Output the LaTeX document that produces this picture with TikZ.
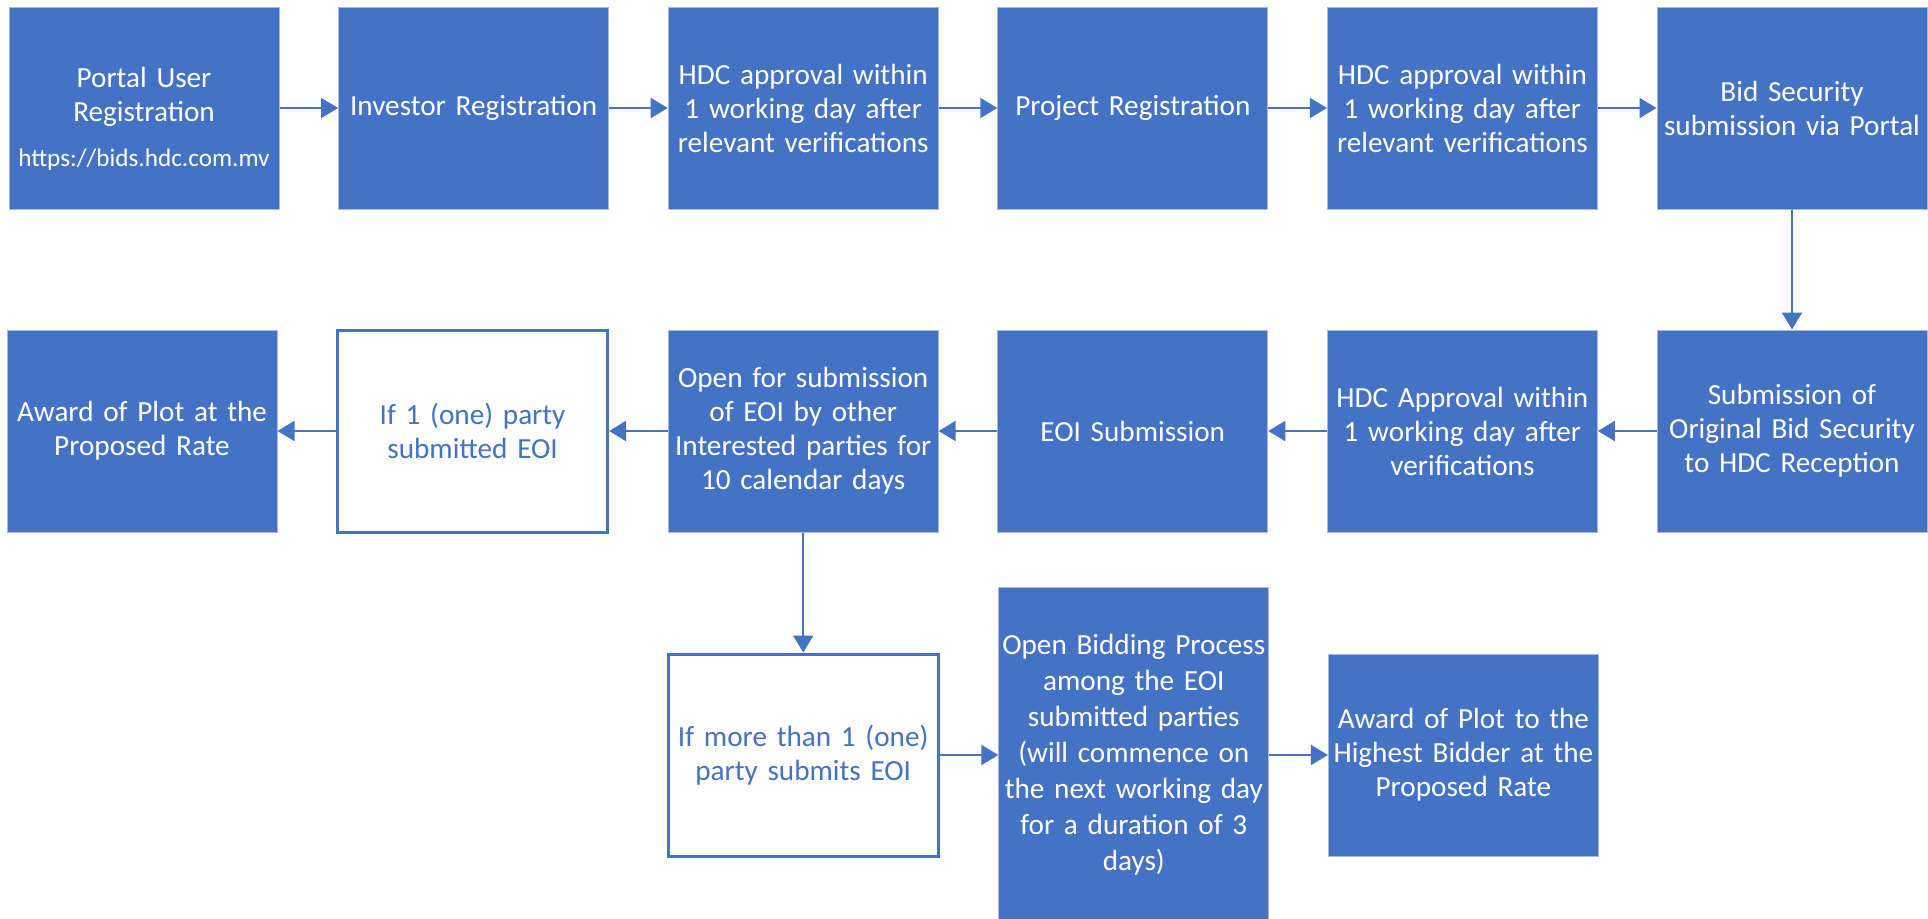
\documentclass[tikz,border=0pt]{standalone}
\usepackage{fontspec}
\setmainfont{Carlito}
\usetikzlibrary{positioning,arrows.meta}
\definecolor{hdcblue}{HTML}{4472C4}
\definecolor{hdcedge}{HTML}{A9B9D9}

\begin{document}
\begin{tikzpicture}[x=1pt,y=1pt]
\tikzset{
    stage/.style={fill=hdcblue, draw=hdcedge, line width=0.5pt, text=white, align=center,
        minimum width=135pt, minimum height=101pt, text width=133pt, inner xsep=1pt,
        font=\fontsize{14.6}{17}\selectfont},
    choice/.style={stage, fill=white, draw=hdcblue, line width=1.5pt, text=hdcblue},
    flow/.style={draw=hdcblue, line width=1pt, -{Triangle[length=8.5pt,width=10pt]}},
    node distance=60pt and 29.3pt
}
\useasboundingbox (0,0) rectangle (964,-459);

% first row, left to right
\node[stage] (portal) at (72,-54) {\rule{0pt}{21pt}Portal User\\Registration\\{\fontsize{12.6}{15}\selectfont\rule{0pt}{19pt}https://bids.hdc.com.mv}};
\node[stage, right=of portal] (investor) {Investor Registration};
\node[stage, right=of investor] (approvalA) {HDC approval within\\1 working day after\\relevant verifications};
\node[stage, right=of approvalA] (project) {Project Registration};
\node[stage, right=of project] (approvalB) {HDC approval within\\1 working day after\\relevant verifications};
\node[stage, right=of approvalB] (bid) {Bid Security\\submission via Portal};

% second row, right to left
\node[stage, below=of bid] (original) {Submission of\\Original Bid Security\\to HDC Reception};
\node[stage, left=of original] (approvalC) {HDC Approval within\\1 working day after\\verifications};
\node[stage, left=of approvalC] (eoi) {EOI Submission};
\node[stage, left=of eoi] (open) {Open for submission\\of EOI by other\\Interested parties for\\10 calendar days};
\node[choice, left=of open] (single) {If 1 (one) party\\submitted EOI};
\node[stage, left=of single] (award) {Award of Plot at the\\Proposed Rate};

% third row
\node[choice, below=of open] (several) {If more than 1 (one)\\party submits EOI};
\node[stage, right=of several, minimum height=168pt, font=\fontsize{14.6}{18}\selectfont] (bidding) {Open Bidding Process\\among the EOI\\submitted parties\\(will commence on\\the next working day\\for a duration of 3\\days)};
\node[stage, right=of bidding] (highest) {Award of Plot to the\\Highest Bidder at the\\Proposed Rate};

\draw[flow] (portal) -- (investor);
\draw[flow] (investor) -- (approvalA);
\draw[flow] (approvalA) -- (project);
\draw[flow] (project) -- (approvalB);
\draw[flow] (approvalB) -- (bid);
\draw[flow] (bid) -- (original);
\draw[flow] (original) -- (approvalC);
\draw[flow] (approvalC) -- (eoi);
\draw[flow] (eoi) -- (open);
\draw[flow] (open) -- (single);
\draw[flow] (single) -- (award);
\draw[flow] (open) -- (several);
\draw[flow] (several) -- (bidding);
\draw[flow] (bidding) -- (highest);
\end{tikzpicture}
\end{document}
